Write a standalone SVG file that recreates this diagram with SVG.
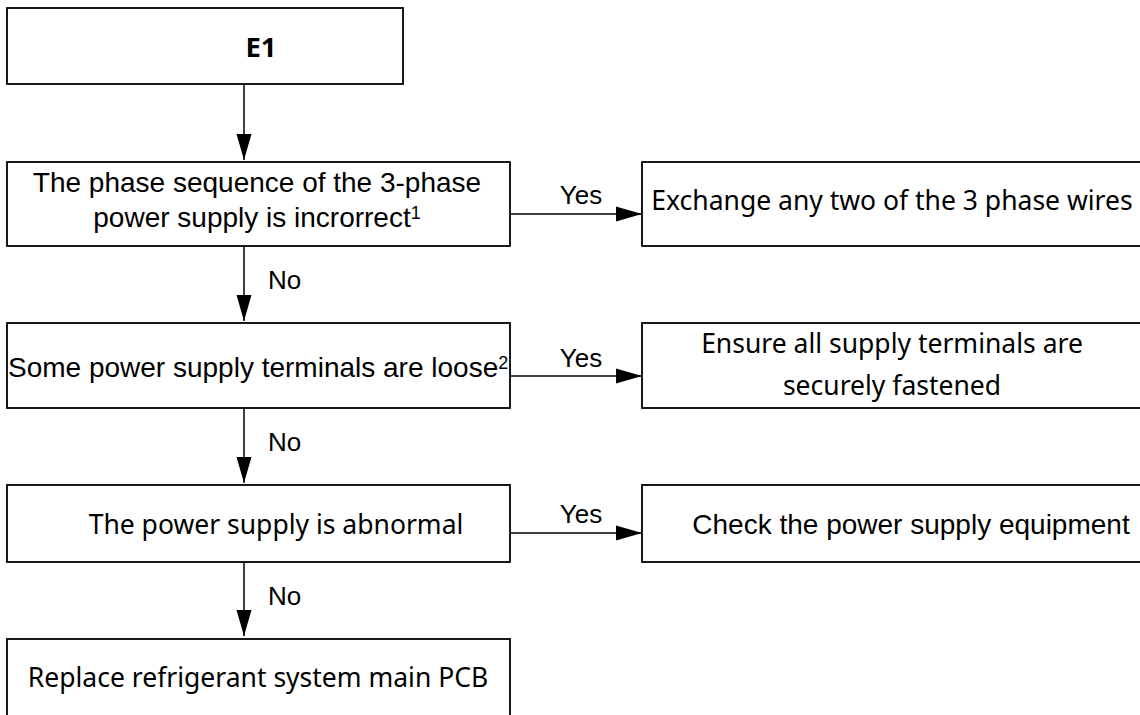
<svg xmlns="http://www.w3.org/2000/svg" width="1140" height="715" viewBox="0 0 1140 715">
  <defs>
    <marker id="arrow" markerUnits="userSpaceOnUse" markerWidth="26" markerHeight="16" refX="26" refY="8" orient="auto">
      <path d="M0,0.5 L26,8 L0,15.5 z" fill="#000"/>
    </marker>
    <style>
      rect.box { fill: #fff; stroke: #000; stroke-width: 1.8; }
      .arial { font-family: "Liberation Sans", Arial, sans-serif; font-size: 28px; fill: #000; }
      .human { font-family: "Noto Sans", "Open Sans", sans-serif; font-size: 26.5px; fill: #000; }
      .lbl { font-family: "Liberation Sans", Arial, sans-serif; font-size: 26px; fill: #000; }
      .sup { font-size: 18px; }
      .conn line { stroke: #000; stroke-width: 1.5; fill: none; marker-end: url(#arrow); }
    </style>
  </defs>
  <rect width="1140" height="715" fill="#fff"/>

  <g id="n-e1">
    <rect class="box" x="7" y="8" width="396" height="76"/>
    <text x="261" y="57" text-anchor="middle" font-family="Noto Sans, Liberation Sans, sans-serif" font-weight="bold" font-size="27.5" fill="#000">E1</text>
  </g>

  <g id="n-phase">
    <rect class="box" x="7" y="162" width="503" height="84"/>
    <text class="arial" x="257" y="192" text-anchor="middle">The phase sequence of the 3-phase</text>
    <text class="arial" x="257" y="227" text-anchor="middle">power supply is incrorrect<tspan class="sup" dy="-8">1</tspan></text>
  </g>

  <g id="n-exchange">
    <rect class="box" x="642" y="162" width="503" height="84"/>
    <text class="human" x="892" y="210" text-anchor="middle">Exchange any two of the 3 phase wires</text>
  </g>

  <g id="n-loose">
    <rect class="box" x="7" y="323" width="503" height="85"/>
    <text class="arial" x="8" y="377">Some power supply terminals are loose<tspan class="sup" dy="-8">2</tspan></text>
  </g>

  <g id="n-ensure">
    <rect class="box" x="642" y="323" width="503" height="85"/>
    <text class="human" x="892" y="353" text-anchor="middle">Ensure all supply terminals are</text>
    <text class="human" x="892" y="395" text-anchor="middle">securely fastened</text>
  </g>

  <g id="n-abnormal">
    <rect class="box" x="7" y="485" width="503" height="77"/>
    <text class="human" x="276" y="534" text-anchor="middle">The power supply is abnormal</text>
  </g>

  <g id="n-check">
    <rect class="box" x="642" y="485" width="503" height="77"/>
    <text class="arial" x="911" y="534" text-anchor="middle">Check the power supply equipment</text>
  </g>

  <g id="n-replace">
    <rect class="box" x="7" y="639" width="503" height="90"/>
    <text class="human" x="258" y="687" text-anchor="middle">Replace refrigerant system main PCB</text>
  </g>

  <g id="connectors">
    <g class="conn">
      <line x1="244" y1="84" x2="244" y2="160"/>
      <line x1="510" y1="214" x2="642" y2="214"/>
      <line x1="244" y1="246" x2="244" y2="321"/>
      <line x1="510" y1="376" x2="642" y2="376"/>
      <line x1="244" y1="408" x2="244" y2="483"/>
      <line x1="510" y1="533" x2="642" y2="533"/>
      <line x1="244" y1="562" x2="244" y2="636"/>
    </g>
    <text class="lbl" x="581" y="204" text-anchor="middle">Yes</text>
    <text class="lbl" x="581" y="367" text-anchor="middle">Yes</text>
    <text class="lbl" x="581" y="523" text-anchor="middle">Yes</text>
    <text class="lbl" x="268" y="289">No</text>
    <text class="lbl" x="268" y="451">No</text>
    <text class="lbl" x="268" y="605">No</text>
  </g>
</svg>
